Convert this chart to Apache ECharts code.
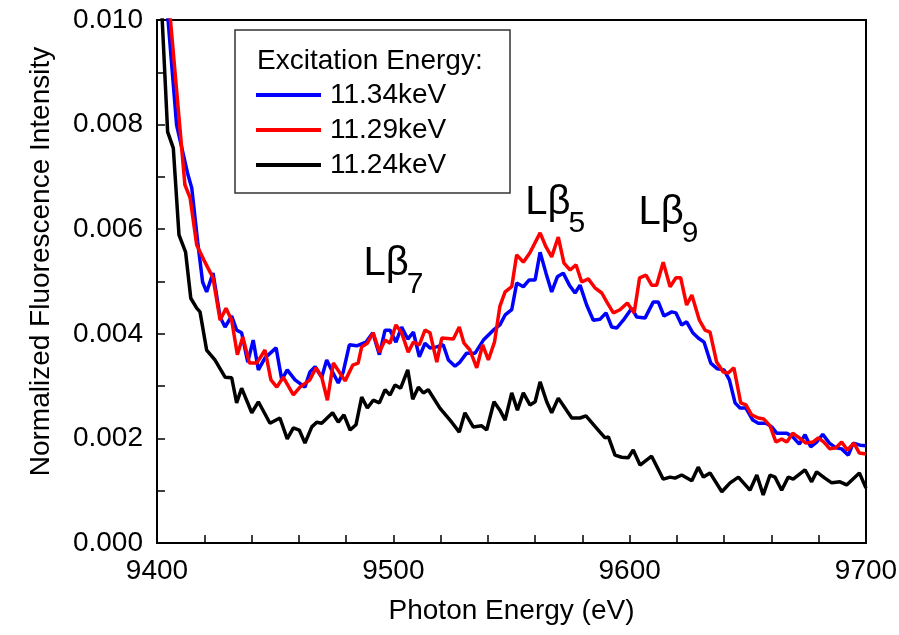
<!DOCTYPE html>
<html>
<head>
<meta charset="utf-8">
<script src="https://cdn.jsdelivr.net/npm/echarts@6/dist/echarts.min.js"></script>
<style>
html,body{margin:0;padding:0;background:#fff;}
#chart{width:899px;height:635px;}
</style>
</head>
<body>
<div id="chart"></div>
<script>
// ---- data ----
const seriesNames = ['11.34keV', '11.29keV', '11.24keV'];

const blueEnergy = [9400, 9404.5, 9408.3, 9413.1, 9414.7, 9417.2, 9419.3, 9421.0, 9423.7, 9426.7,
  9428.8, 9431.6, 9433.7, 9435.8, 9438.4, 9440.7, 9442.9, 9445.7, 9450.4, 9452.8,
  9455.1, 9458.4, 9462.6, 9464.7, 9466.9, 9469.7, 9471.8, 9474.3, 9476.7, 9478.8,
  9481.4, 9484.5, 9488.4, 9491.3, 9494.1, 9496.5, 9498.6, 9501.1, 9503.5, 9506.1,
  9508.5, 9511.0, 9513.4, 9515.5, 9518.4, 9521.1, 9523.3, 9526.1, 9528.2, 9531.0,
  9534.6, 9538.1, 9542.3, 9545.1, 9547.3, 9550.1, 9552.2, 9555.0, 9557.5, 9560.0,
  9562.1, 9564.6, 9567.0, 9569.4, 9571.9, 9574.5, 9576.9, 9579.0, 9581.8, 9584.6,
  9587.5, 9590.0, 9592.4, 9594.5, 9597.3, 9600.9, 9603.0, 9606.5, 9610.0, 9612.1,
  9614.5, 9617.8, 9619.6, 9622.0, 9624.1, 9626.7, 9629.0, 9631.5, 9634.3, 9637.1,
  9639.9, 9642.2, 9644.6, 9646.7, 9649.2, 9652.1, 9654.4, 9657.7, 9660.1, 9662.2,
  9666.5, 9669.0, 9671.8, 9674.2, 9676.6, 9679.1, 9681.7, 9684.5, 9687.3, 9689.7,
  9692.5, 9694.6, 9697.5, 9700];
const blueIntensity = [0.0126, 0.01010, 0.00799, 0.00704, 0.00679, 0.00576, 0.00499, 0.00480, 0.00516, 0.00432,
  0.00413, 0.00434, 0.00407, 0.00402, 0.00346, 0.00388, 0.00331, 0.00354, 0.00373, 0.00312,
  0.00331, 0.00312, 0.00298, 0.00327, 0.00337, 0.00317, 0.00350, 0.00327, 0.00306, 0.00327,
  0.00379, 0.00377, 0.00384, 0.00402, 0.00360, 0.00407, 0.00407, 0.00384, 0.00413, 0.00390,
  0.00403, 0.00356, 0.00382, 0.00373, 0.00375, 0.00379, 0.00350, 0.00338, 0.00346, 0.00363,
  0.00363, 0.00388, 0.00407, 0.00417, 0.00436, 0.00446, 0.00497, 0.00490, 0.00503, 0.00503,
  0.00556, 0.00516, 0.00480, 0.00509, 0.00516, 0.00493, 0.00478, 0.00493, 0.00455, 0.00426,
  0.00428, 0.00440, 0.00413, 0.00411, 0.00426, 0.00449, 0.00432, 0.00430, 0.00461, 0.00461,
  0.00434, 0.00442, 0.00440, 0.00417, 0.00423, 0.00402, 0.00392, 0.00384, 0.00344, 0.00333,
  0.00331, 0.00312, 0.00268, 0.00258, 0.00258, 0.00235, 0.00229, 0.00229, 0.00222, 0.00210,
  0.00210, 0.00203, 0.00189, 0.00207, 0.00184, 0.00193, 0.00208, 0.00191, 0.00182, 0.00180,
  0.00168, 0.00191, 0.00187, 0.00186];

const redEnergy = [9400, 9405.5, 9411.8, 9414.0, 9416.8, 9420.3, 9423.7, 9426.7, 9429.2, 9431.6,
  9434.0, 9436.3, 9439.1, 9442.2, 9445.7, 9448.2, 9450.7, 9453.4, 9457.7, 9460.5,
  9464.7, 9467.3, 9469.7, 9472.1, 9474.6, 9479.6, 9482.8, 9485.1, 9486.6, 9489.0,
  9491.5, 9494.1, 9496.5, 9498.6, 9501.1, 9503.5, 9506.3, 9508.5, 9511.0, 9513.4,
  9515.5, 9518.4, 9520.5, 9525.4, 9527.9, 9529.9, 9532.4, 9535.3, 9537.8, 9540.2,
  9542.8, 9545.1, 9547.3, 9550.1, 9552.2, 9555.0, 9557.8, 9562.1, 9564.6, 9567.0,
  9569.8, 9572.2, 9574.8, 9577.3, 9579.7, 9582.5, 9585.3, 9588.2, 9590.3, 9593.1,
  9595.9, 9599.0, 9601.9, 9604.2, 9606.9, 9609.3, 9611.4, 9614.2, 9617.1, 9619.6,
  9621.6, 9624.1, 9626.3, 9629.5, 9631.9, 9634.0, 9636.8, 9639.6, 9641.7, 9644.1,
  9647.0, 9649.2, 9651.6, 9654.4, 9656.8, 9659.4, 9661.9, 9664.3, 9666.5, 9669.0,
  9671.8, 9674.6, 9677.5, 9679.8, 9682.2, 9684.7, 9687.3, 9689.7, 9692.1, 9694.9,
  9697.2, 9700];
const redIntensity = [0.0129, 0.01010, 0.00685, 0.00660, 0.00570, 0.00537, 0.00507, 0.00426, 0.00449, 0.00426,
  0.00360, 0.00394, 0.00344, 0.00344, 0.00369, 0.00312, 0.00298, 0.00317, 0.00283, 0.00298,
  0.00312, 0.00335, 0.00317, 0.00273, 0.00344, 0.00310, 0.00340, 0.00344, 0.00375, 0.00382,
  0.00402, 0.00365, 0.00388, 0.00382, 0.00417, 0.00402, 0.00365, 0.00384, 0.00379, 0.00407,
  0.00402, 0.00346, 0.00392, 0.00390, 0.00413, 0.00382, 0.00369, 0.00335, 0.00379, 0.00350,
  0.00384, 0.00453, 0.00480, 0.00490, 0.00551, 0.00537, 0.00555, 0.00593, 0.00566, 0.00547,
  0.00585, 0.00535, 0.00522, 0.00532, 0.00499, 0.00505, 0.00488, 0.00478, 0.00461, 0.00440,
  0.00446, 0.00459, 0.00440, 0.00507, 0.00512, 0.00493, 0.00493, 0.00537, 0.00490, 0.00507,
  0.00507, 0.00455, 0.00474, 0.00426, 0.00407, 0.00403, 0.00346, 0.00327, 0.00325, 0.00335,
  0.00268, 0.00264, 0.00245, 0.00239, 0.00237, 0.00224, 0.00193, 0.00199, 0.00193, 0.00210,
  0.00201, 0.00191, 0.00193, 0.00201, 0.00193, 0.00180, 0.00182, 0.00193, 0.00178, 0.00191,
  0.00172, 0.00170];

const blackEnergy = [9400, 9402.1, 9404.5, 9406.9, 9409.3, 9412.1, 9414.3, 9416.8, 9418.2, 9421.0,
  9424.5, 9428.8, 9431.6, 9433.7, 9435.8, 9440.1, 9442.9, 9447.8, 9452.0, 9455.1,
  9457.7, 9460.2, 9462.6, 9465.5, 9467.6, 9469.7, 9474.3, 9476.7, 9479.1, 9481.7,
  9484.2, 9486.6, 9489.0, 9491.5, 9494.1, 9496.5, 9498.6, 9500.7, 9503.1, 9506.1,
  9508.2, 9510.6, 9512.7, 9514.8, 9519.7, 9524.7, 9527.9, 9530.3, 9533.8, 9537.4,
  9539.5, 9542.6, 9545.1, 9547.3, 9550.1, 9552.5, 9555.0, 9557.8, 9560.0, 9562.1,
  9564.9, 9567.0, 9569.8, 9575.5, 9579.0, 9581.5, 9586.7, 9589.6, 9591.0, 9593.8,
  9596.6, 9599.4, 9601.5, 9604.4, 9609.3, 9614.2, 9617.1, 9619.2, 9622.0, 9626.3,
  9629.0, 9631.2, 9634.0, 9639.0, 9642.5, 9646.0, 9650.9, 9653.8, 9656.5, 9659.4,
  9661.5, 9664.3, 9667.1, 9669.2, 9674.2, 9677.0, 9679.1, 9682.6, 9685.5, 9689.0,
  9691.8, 9697.2, 9700];
const blackIntensity = [0.0121, 0.01010, 0.00786, 0.00755, 0.00589, 0.00556, 0.00468, 0.00449, 0.00442, 0.00369,
  0.00350, 0.00317, 0.00316, 0.00268, 0.00296, 0.00249, 0.00270, 0.00229, 0.00239, 0.00199,
  0.00220, 0.00216, 0.00191, 0.00222, 0.00231, 0.00229, 0.00249, 0.00231, 0.00245, 0.00216,
  0.00226, 0.00279, 0.00258, 0.00273, 0.00268, 0.00293, 0.00283, 0.00302, 0.00296, 0.00331,
  0.00275, 0.00298, 0.00287, 0.00293, 0.00258, 0.00231, 0.00212, 0.00249, 0.00222, 0.00224,
  0.00216, 0.00270, 0.00254, 0.00235, 0.00287, 0.00254, 0.00287, 0.00264, 0.00270, 0.00308,
  0.00270, 0.00249, 0.00277, 0.00239, 0.00239, 0.00243, 0.00216, 0.00201, 0.00203, 0.00168,
  0.00164, 0.00163, 0.00178, 0.00149, 0.00166, 0.00122, 0.00126, 0.00124, 0.00130, 0.00119,
  0.00145, 0.00126, 0.00134, 0.00098, 0.00115, 0.00126, 0.00101, 0.00130, 0.00092, 0.00130,
  0.00126, 0.00101, 0.00126, 0.00122, 0.00140, 0.00117, 0.00136, 0.00124, 0.00115, 0.00117,
  0.00111, 0.00134, 0.00105];

const peakMain = ['Lβ', 'Lβ', 'Lβ'];
const peakSub = ['7', '5', '9'];
const peakEnergy = [9496.9, 9565.4, 9613.3];
const peakLevel = [0.00534, 0.00650, 0.00631];

const legendTitle = 'Excitation Energy:';
const xTitle = 'Photon Energy (eV)';
const yTitle = 'Normalized Fluorescence Intensity';

// ---- chart ----
const FONT = "'Liberation Sans', Arial, sans-serif";
function pairs(xs, ys) { return xs.map((x, i) => [x, ys[i]]); }

const annotationData = [];
peakMain.forEach((t, i) => {
  annotationData.push({ coord: [peakEnergy[i], peakLevel[i]],
    label: { formatter: t, fontSize: 40 } });
  annotationData.push({ coord: [peakEnergy[i], peakLevel[i]],
    label: { formatter: peakSub[i], fontSize: 30, offset: [29, 21] } });
});

const chart = echarts.init(document.getElementById('chart'), null, { renderer: 'canvas' });
const lineW = 3.5;
chart.setOption({
  animation: false,
  backgroundColor: '#fff',
  textStyle: { fontFamily: FONT, color: '#000' },
  grid: { left: 157, right: 33, top: 20, bottom: 92, show: true, containLabel: false,
    outerBoundsMode: 'none',
    borderColor: '#000', borderWidth: 2, backgroundColor: 'transparent' },
  xAxis: {
    type: 'value', min: 9400, max: 9700, interval: 100,
    name: xTitle, nameLocation: 'middle', nameGap: 54,
    nameTextStyle: { fontSize: 28, color: '#000', fontFamily: FONT },
    axisLine: { lineStyle: { color: '#000', width: 2 } },
    axisTick: { inside: true, length: 8, lineStyle: { color: '#000', width: 1.5 } },
    minorTick: { show: true, splitNumber: 5, length: 8, lineStyle: { color: '#000', width: 1.5 } },
    splitLine: { show: false },
    axisLabel: { fontSize: 28, color: '#000', margin: 14, fontFamily: FONT,
      formatter: v => String(v) }
  },
  yAxis: {
    type: 'value', min: 0, max: 0.01, interval: 0.002,
    name: yTitle, nameLocation: 'middle', nameGap: 102,
    nameTextStyle: { fontSize: 28, color: '#000', fontFamily: FONT, padding: [0, 0, 0, 40] },
    axisLine: { lineStyle: { color: '#000', width: 2 } },
    axisTick: { inside: true, length: 8, lineStyle: { color: '#000', width: 1.5 } },
    minorTick: { show: true, splitNumber: 2, length: 8, lineStyle: { color: '#000', width: 1.5 } },
    splitLine: { show: false },
    axisLabel: { fontSize: 28, color: '#000', margin: 14, fontFamily: FONT,
      formatter: v => v.toFixed(3) }
  },
  legend: {
    orient: 'vertical', left: 251, top: 76, itemGap: 7,
    itemWidth: 65, itemHeight: 4, icon: 'rect',
    data: seriesNames,
    textStyle: { fontSize: 28, color: '#000', fontFamily: FONT, padding: [0, 0, 0, 4] },
    z: 10
  },
  graphic: [
    { type: 'rect', z: 8, shape: { x: 235, y: 30, width: 275, height: 163 },
      style: { fill: '#fff', stroke: '#333', lineWidth: 1.5 } },
    { type: 'text', z: 9, x: 257, y: 61,
      style: { text: legendTitle, font: "28px " + FONT, fill: '#000', textVerticalAlign: 'middle' } }
  ],
  series: [
    { name: seriesNames[2], type: 'line', data: pairs(blackEnergy, blackIntensity),
      showSymbol: false, symbol: 'none', clip: true,
      lineStyle: { color: '#000000', width: lineW }, itemStyle: { color: '#000000' } },
    { name: seriesNames[0], type: 'line', data: pairs(blueEnergy, blueIntensity),
      showSymbol: false, symbol: 'none', clip: true,
      lineStyle: { color: '#0000ff', width: lineW }, itemStyle: { color: '#0000ff' } },
    { name: seriesNames[1], type: 'line', data: pairs(redEnergy, redIntensity),
      showSymbol: false, symbol: 'none', clip: true,
      lineStyle: { color: '#ff0000', width: lineW }, itemStyle: { color: '#ff0000' },
      markPoint: {
        symbol: 'circle', symbolSize: 1, silent: true,
        itemStyle: { color: 'rgba(0,0,0,0)' },
        label: { show: true, position: 'inside', color: '#000', fontFamily: FONT,
          align: 'center', verticalAlign: 'middle' },
        data: annotationData
      } }
  ]
});
</script>
</body>
</html>
